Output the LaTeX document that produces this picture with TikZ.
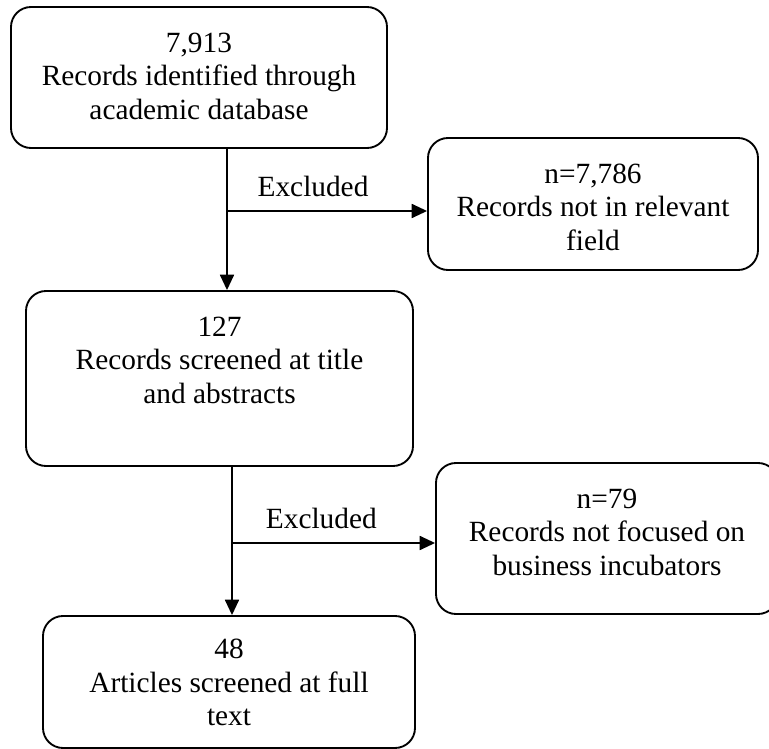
\documentclass[tikz,border=0pt]{standalone}
\usepackage{fontspec}
\setmainfont{Liberation Serif}
\usetikzlibrary{positioning}
\usetikzlibrary{arrows.meta}

\tikzset{
  box/.style={draw, rounded corners=15pt, line width=1.4pt, inner sep=0pt},
  txt/.style={align=center, inner sep=0pt},
  flow/.style={->, line width=1.3pt, >={Triangle[length=11.5pt,width=10.5pt]}}
}

\begin{document}
\begin{tikzpicture}[x=0.75pt, y=-0.75pt]
\fontsize{22pt}{25pt}\selectfont
\useasboundingbox (0,0) rectangle (769,749);
\node[box, minimum width=282pt, minimum height=105.75pt] (ident) at (199,77.5) {};
\node[box, minimum width=247.5pt, minimum height=99pt] (notrel) at (593,204) {};
\node[box, minimum width=290.25pt, minimum height=131.25pt] (screen) at (219.5,378.5) {};
\node[box, minimum width=256.5pt, minimum height=113.25pt] (notfoc) at (607,538.5) {}; % runs off the right edge
\node[box, minimum width=279pt, minimum height=99pt] (full) at (229,682) {};
\node[txt, below=20pt of ident.north] (identtxt) {7,913\\Records identified through\\academic database};
\node[txt, below=20pt of notrel.north] (notreltxt) {n=7,786\\Records not in relevant\\field};
\node[txt, below=20pt of screen.north] (screentxt) {127\\Records screened at title\\and abstracts};
\node[txt, below=20pt of notfoc.north] (notfoctxt) {n=79\\Records not focused on\\business incubators};
\node[txt, below=18pt of full.north] (fulltxt) {48\\Articles screened at full\\text};
\coordinate (split1) at (227,211);
\coordinate (split2) at (232,543);
\draw[flow] (split1 |- ident.south) -- (split1 |- screen.north);
\draw[flow] (split1) -- (split1 -| notrel.west) node[txt, above=10pt, pos=0.43] (excl1) {Excluded};
\draw[flow] (split2 |- screen.south) -- (split2 |- full.north);
\draw[flow] (split2) -- (split2 -| notfoc.west) node[txt, above=10pt, pos=0.44] (excl2) {Excluded};
\end{tikzpicture}
\end{document}
